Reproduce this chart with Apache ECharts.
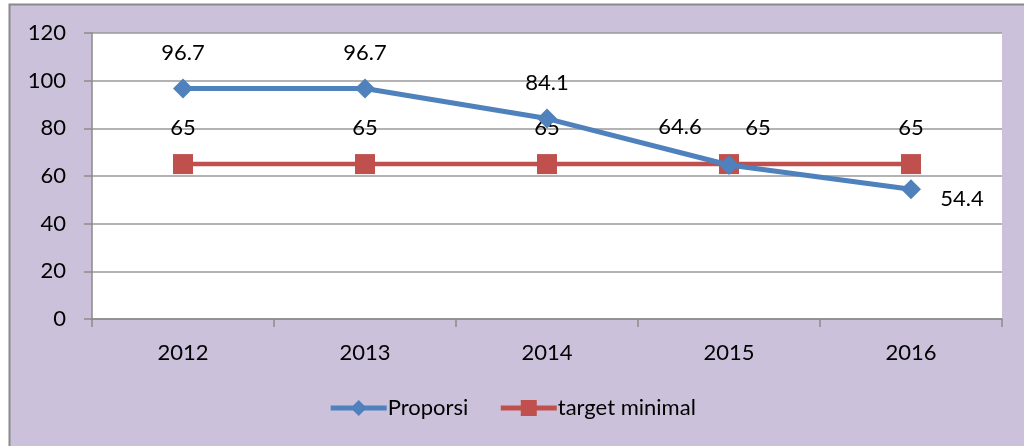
<!DOCTYPE html>
<html>
<head>
<meta charset="utf-8">
<script src="https://cdn.jsdelivr.net/npm/echarts@6/dist/echarts.min.js"></script>
<style>
  html, body { margin: 0; padding: 0; background: #fff; }
  #chart { width: 1024px; height: 446px; }
</style>
</head>
<body>
<div id="chart"></div>
<script>
// data
var years = ['2012', '2013', '2014', '2015', '2016'];
var proporsi = [96.7, 96.7, 84.1, 64.6, 54.4];
var targetMinimal = [65, 65, 65, 65, 65];
var yTicks = { min: 0, max: 120, interval: 20 };

var FONT = 'Lato, "Open Sans", sans-serif';
var FS = 22;

// label offsets (px) so the numbers sit where the original has them
var proporsiOffsets = [[0, -36], [0, -36], [0, -36], [-49, -38], [51, 10]];
var targetOffsets = [[0, -36], [0, -36], [0, -36], [29, -36], [0, -36]];

function withLabels(values, offsets) {
    return values.map(function (v, i) {
        return { value: v, label: { offset: offsets[i] } };
    });
}

var chart = echarts.init(document.getElementById('chart'));
var option = {
    animation: false,
    textStyle: { fontFamily: FONT },
    graphic: [{
        type: 'rect',
        z: -10,
        shape: { x: 9.5, y: 4.5, width: 1030, height: 460 },
        style: { fill: '#ccc1da', stroke: '#8a8a8a', lineWidth: 2 }
    }],
    grid: {
        left: 92,
        right: 22,
        top: 33,
        bottom: 127,
        show: true,
        backgroundColor: '#fff',
        borderWidth: 0
    },
    legend: {
        bottom: 22,
        left: 'center',
        itemWidth: 56,
        itemHeight: 20,
        itemGap: 30,
        lineStyle: { width: 5 },
        textStyle: { fontFamily: FONT, fontSize: FS, color: '#000', padding: [0, 0, 0, -4] },
        data: ['Proporsi', 'target minimal']
    },
    xAxis: {
        type: 'category',
        data: years,
        boundaryGap: true,
        axisLine: { lineStyle: { color: '#8a8a8a', width: 1.5 } },
        axisTick: { show: true, length: 8, lineStyle: { color: '#8a8a8a', width: 1.5 } },
        axisLabel: { fontFamily: FONT, fontSize: FS, color: '#000', margin: 23 }
    },
    yAxis: {
        type: 'value',
        min: yTicks.min,
        max: yTicks.max,
        interval: yTicks.interval,
        axisLine: { show: true, lineStyle: { color: '#8a8a8a', width: 1.5 } },
        axisTick: { show: true, length: 8, lineStyle: { color: '#8a8a8a', width: 1.5 } },
        splitLine: { lineStyle: { color: '#9a9a9a', width: 1.5 } },
        axisLabel: { fontFamily: FONT, fontSize: FS, color: '#000', margin: 26 }
    },
    series: [
        {
            name: 'Proporsi',
            type: 'line',
            data: withLabels(proporsi, proporsiOffsets),
            symbol: 'diamond',
            symbolSize: 20,
            z: 3,
            itemStyle: { color: '#4f81bd' },
            lineStyle: { color: '#4f81bd', width: 5 },
            label: {
                show: true,
                position: 'inside',
                fontFamily: FONT,
                fontSize: FS,
                color: '#000'
            }
        },
        {
            name: 'target minimal',
            type: 'line',
            data: withLabels(targetMinimal, targetOffsets),
            symbol: 'rect',
            symbolSize: 20,
            z: 2,
            itemStyle: { color: '#c0504d' },
            lineStyle: { color: '#c0504d', width: 4.5 },
            label: {
                show: true,
                position: 'inside',
                fontFamily: FONT,
                fontSize: FS,
                color: '#000'
            }
        }
    ]
};
chart.setOption(option);
</script>
</body>
</html>
